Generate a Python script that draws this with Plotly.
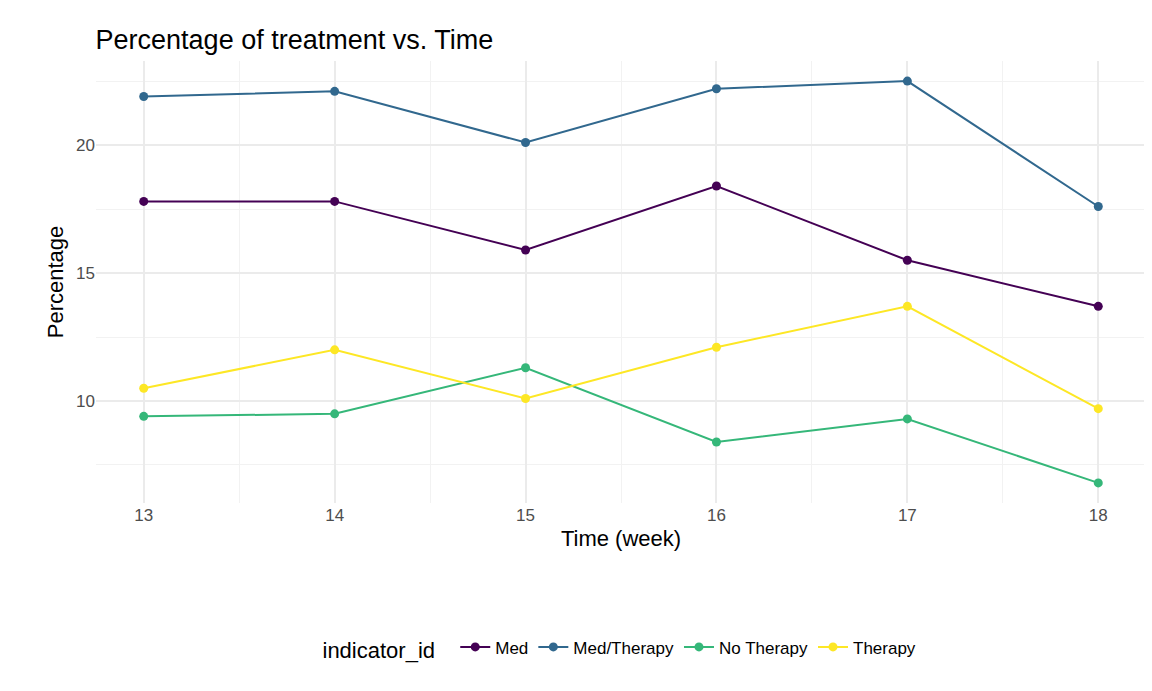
import plotly.graph_objects as go

weeks = [13, 14, 15, 16, 17, 18]
med = [17.8, 17.8, 15.9, 18.4, 15.5, 13.7]
med_therapy = [21.9, 22.1, 20.1, 22.2, 22.5, 17.6]
no_therapy = [9.4, 9.5, 11.3, 8.4, 9.3, 6.8]
therapy = [10.5, 12.0, 10.1, 12.1, 13.7, 9.7]
names = ["Med", "Med/Therapy", "No Therapy", "Therapy"]
colors = ["#440154", "#31688E", "#35B779", "#FDE725"]

fig = go.Figure()
for n, v, c in zip(names, [med, med_therapy, no_therapy, therapy], colors):
    fig.add_trace(go.Scatter(x=weeks, y=v, name=n, mode="lines+markers",
                             line=dict(color=c, width=2), marker=dict(color=c, size=9)))

font = "Liberation Sans, Arial, sans-serif"
fig.update_layout(
    width=1152, height=691, plot_bgcolor="white", paper_bgcolor="white",
    font=dict(family=font, color="black"),
    title=dict(text="Percentage of treatment vs. Time", x=0.076, xanchor="left",
               y=0.955, yanchor="middle", font=dict(size=27)),
    margin=dict(l=88, r=14, t=53, b=196, autoexpand=False),
    xaxis=dict(range=[12.75, 18.25], tickvals=weeks, showline=False, zeroline=False,
               automargin=False, gridcolor="#EBEBEB", gridwidth=2,
               minor=dict(dtick=0.5, tick0=12.5, gridcolor="#F2F2F2", gridwidth=1, showgrid=True),
               tickfont=dict(size=17, color="#4D4D4D"),
               title=dict(text="Time (week)", font=dict(size=22), standoff=6)),
    yaxis=dict(range=[6.015, 23.285], tickvals=[10, 15, 20], showline=False, zeroline=False,
               automargin=False, gridcolor="#EBEBEB", gridwidth=2,
               minor=dict(dtick=2.5, tick0=7.5, gridcolor="#F2F2F2", gridwidth=1, showgrid=True),
               tickfont=dict(size=17, color="#4D4D4D"),
               title=dict(text="Percentage", font=dict(size=22), standoff=6)),
    legend=dict(orientation="h", x=0.5, xanchor="center", y=-0.33, yanchor="middle",
                title=dict(text="indicator_id  ", font=dict(size=22)),
                font=dict(size=17)),
)
fig.write_html("out.html")
